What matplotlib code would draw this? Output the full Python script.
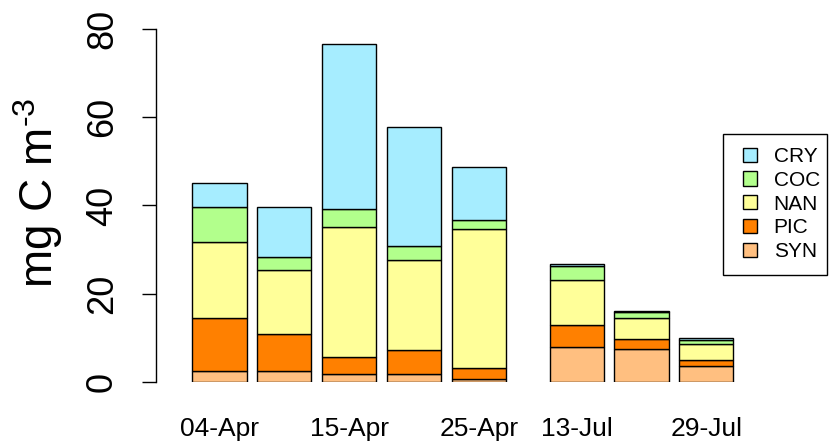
import numpy as np
import matplotlib
matplotlib.use('Agg')
from matplotlib import pyplot as plt
from matplotlib.patches import Patch, Rectangle

# stacked carbon biomass per sampling date (mg C m-3)
dates = ['04-Apr', '', '15-Apr', '', '25-Apr', '13-Jul', '', '29-Jul']
groups = ['SYN', 'PIC', 'NAN', 'COC', 'CRY']
SYN = [2.4, 2.4, 1.7, 1.7, 0.75, 7.9, 7.5, 3.6]
PIC = [12.1, 8.4, 4.0, 5.5, 2.45, 5.1, 2.2, 1.4]
NAN = [17.2, 14.6, 29.4, 20.4, 31.4, 10.2, 4.7, 3.6]
COC = [7.9, 2.9, 4.1, 3.2, 2.1, 3.2, 1.4, 1.0]
CRY = [5.5, 11.3, 37.3, 27.1, 12.1, 0.4, 0.4, 0.4]

colors = {'SYN': '#FFBF80', 'PIC': '#FF8000', 'NAN': '#FFFF99',
          'COC': '#B2FF8C', 'CRY': '#A6EDFF'}


def set_mpl():
    plt.rcParams.update({
        'font.family': ['Liberation Sans', 'DejaVu Sans'],
        'mathtext.fontset': 'custom',
        'mathtext.rm': 'Liberation Sans',
        'mathtext.it': 'Liberation Sans:italic',
        'axes.linewidth': 1.0,
    })


def plot_figure():
    set_mpl()
    fig = plt.figure(figsize=(8.36, 4.48), dpi=100)

    # R barplot style spacing, wider gap before the July samples
    space = [0.2, 0.2, 0.2, 0.2, 0.2, 0.8, 0.2, 0.2]
    lefts = np.cumsum(np.array(space) + 1) - 1
    centers = lefts + 0.5

    px_per_unit = 54.1
    ax_left_px, ax_right_px = 156, 836
    c0_px = 219.5
    ax = fig.add_axes([ax_left_px / 836, 66 / 448,
                       (ax_right_px - ax_left_px) / 836, 353 / 448])
    ax.set_xlim(centers[0] - (c0_px - ax_left_px) / px_per_unit,
                centers[0] + (ax_right_px - c0_px) / px_per_unit)
    ax.set_ylim(0, 80)

    data = {'SYN': SYN, 'PIC': PIC, 'NAN': NAN, 'COC': COC, 'CRY': CRY}
    bottom = np.zeros(len(dates))
    for g in groups:
        vals = np.array(data[g])
        ax.bar(centers, vals, width=1.0, bottom=bottom, color=colors[g],
               edgecolor='black', linewidth=1.0)
        bottom += vals

    for s in ['top', 'right', 'bottom']:
        ax.spines[s].set_visible(False)

    ax.set_yticks([0, 20, 40, 60, 80])
    ax.set_yticklabels(['0', '20', '40', '60', '80'], rotation=90,
                       va='center', fontsize=26)
    ax.tick_params(axis='y', length=10, width=1.0, pad=16)

    ax.set_xticks(centers)
    ax.set_xticklabels(dates, fontsize=19)
    ax.tick_params(axis='x', length=0, pad=25)

    fig.text(38 / 836, 1 - 193 / 448, 'mg C m$^{\\text{-3}}$', rotation=90,
             fontsize=33, ha='center', va='center')

    # legend box drawn by hand (R style: narrow right margin)
    ax.add_patch(Rectangle((723 / 836, 1 - 275 / 448), 104 / 836, 141 / 448,
                           transform=fig.transFigure, clip_on=False,
                           facecolor='white', edgecolor='black',
                           linewidth=1.0, zorder=5))
    handles = [Patch(facecolor=colors[g], edgecolor='black', linewidth=1.0)
               for g in groups[::-1]]
    leg = ax.legend(handles, groups[::-1], loc='upper left',
                    bbox_to_anchor=(743 / 836, 1 - 147 / 448),
                    bbox_transform=fig.transFigure, borderaxespad=0,
                    fontsize=15, handlelength=0.67, handleheight=0.67,
                    handletextpad=0.8, labelspacing=0.23, borderpad=0,
                    frameon=False)
    leg.set_zorder(6)

    fig.savefig('out.png', dpi=100)


if __name__ == "__main__":
    plot_figure()
